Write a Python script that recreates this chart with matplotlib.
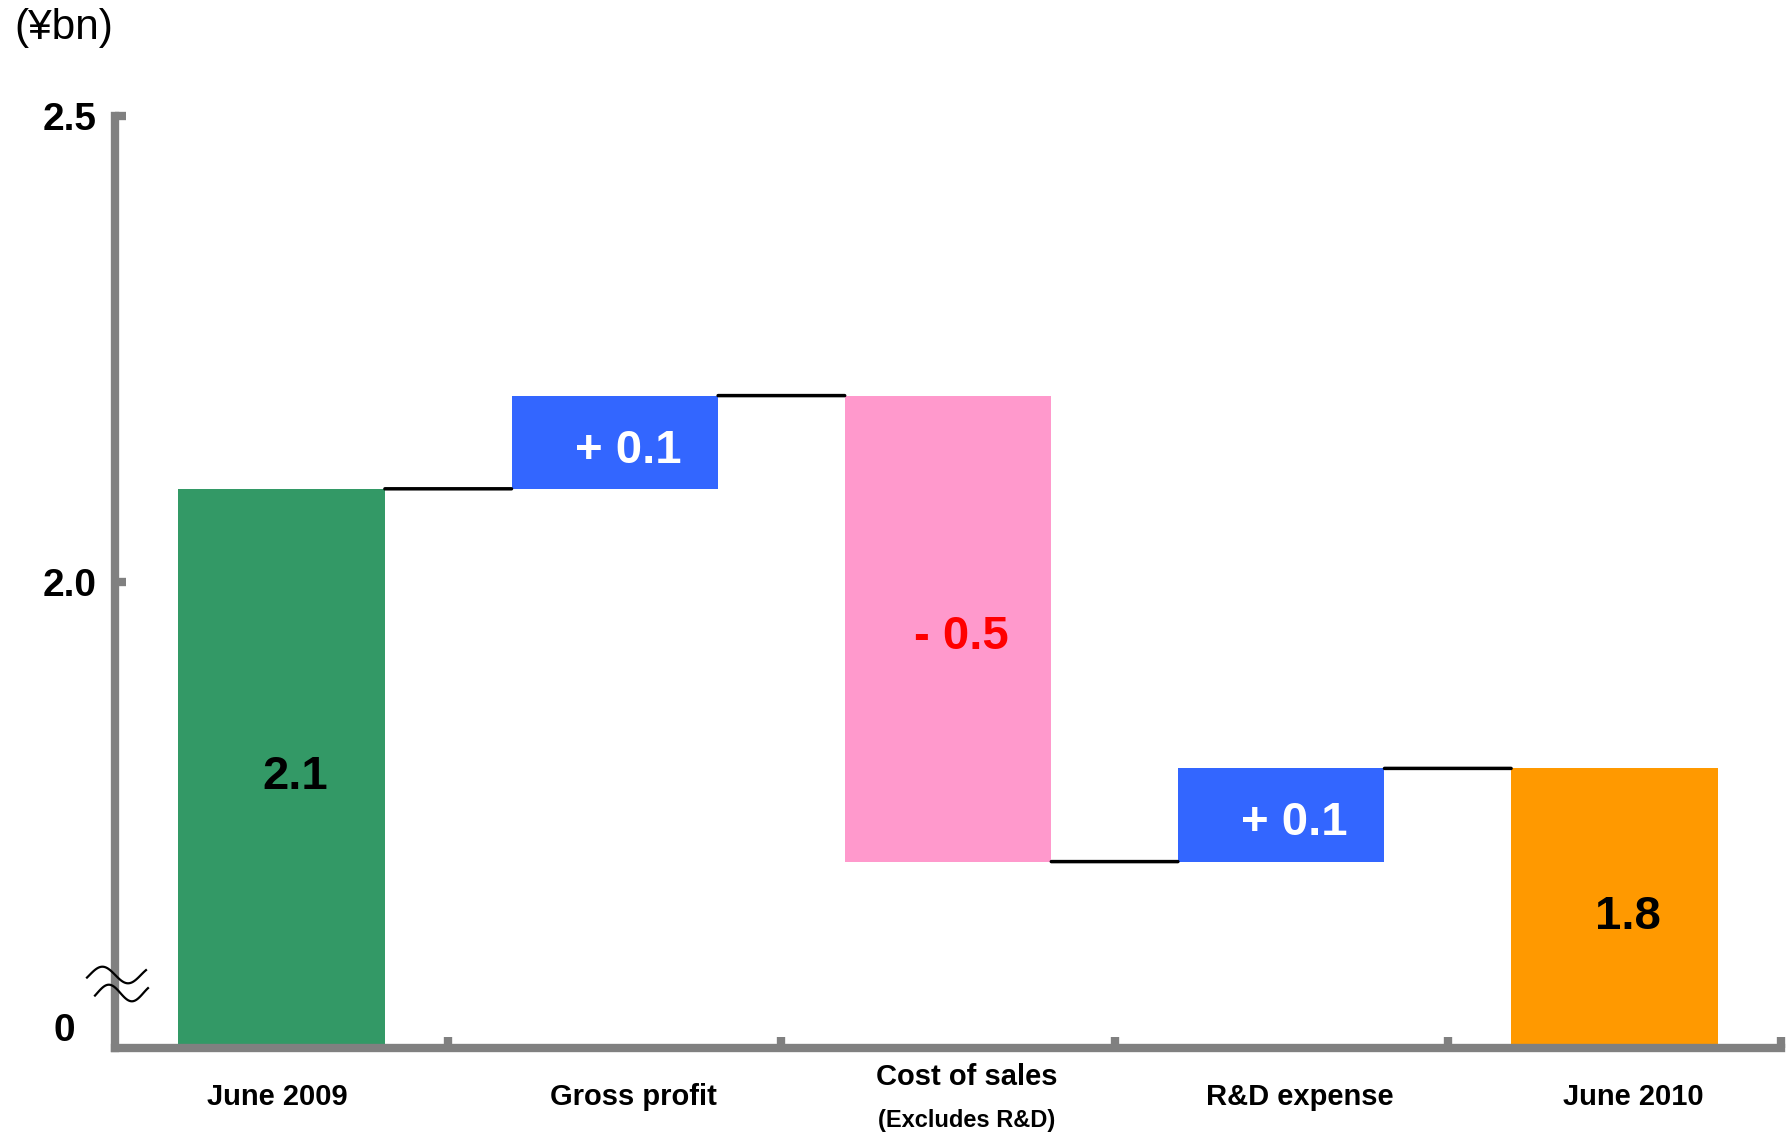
import numpy as np
import matplotlib
matplotlib.use("Agg")
import matplotlib.pyplot as plt
from matplotlib.lines import Line2D

plt.rcParams['font.family'] = ['Liberation Sans', 'DejaVu Sans']

# ---- data ----
categories = ["June 2009", "Gross profit", "Cost of sales", "R&D expense", "June 2010"]
sub_labels = ["", "", "(Excludes R&D)", "", ""]
start_value = 2.1
changes = [0.1, -0.5, 0.1]
end_value = 1.8
value_labels = ["2.1", "+ 0.1", "- 0.5", "+ 0.1", "1.8"]
bar_colors = ["#339966", "#3366FF", "#FF99CC", "#3366FF", "#FF9900"]
label_colors = ["black", "white", "#FF0000", "white", "black"]
ytick_vals = [2.0, 2.5]
ytick_labels = ["2.0", "2.5"]
y_break = 1.5   # axis is broken: bottom of axis shown as "0"

W, H = 1791, 1133
fig = plt.figure(figsize=(W / 100, H / 100), dpi=100)
ax = fig.add_axes([115 / W, 1 - 1048 / H, (1781 - 115) / W, (1048 - 116) / H])

# compute waterfall
levels = [start_value]
for c in changes:
    levels.append(levels[-1] + c)
bottoms, tops = [y_break], [start_value]
for i, c in enumerate(changes):
    lo, hi = sorted([levels[i], levels[i + 1]])
    bottoms.append(lo)
    tops.append(hi)
bottoms.append(y_break)
tops.append(end_value)
ends = levels + [end_value]

x = np.arange(len(categories)) + 0.5
bw = 0.62
for i in range(len(categories)):
    ax.bar(x[i], tops[i] - bottoms[i], bottom=bottoms[i], width=bw,
           color=bar_colors[i], zorder=2)
    ax.annotate(value_labels[i], xy=(x[i] + 0.04, (tops[i] + bottoms[i]) / 2),
                xytext=(0, -6), textcoords="offset points",
                ha="center", va="center", fontsize=34, fontweight="bold",
                color=label_colors[i], zorder=3)

# connectors
for i in range(len(categories) - 1):
    ax.annotate("", xy=(x[i] + bw / 2, ends[i]), xytext=(x[i + 1] - bw / 2, ends[i]),
                arrowprops=dict(arrowstyle="-", color="black", lw=2.5,
                                shrinkA=0, shrinkB=0))

ax.set_xlim(0, len(categories))
ax.set_ylim(y_break, 2.5)

for s in ["top", "right"]:
    ax.spines[s].set_visible(False)
for s in ["left", "bottom"]:
    ax.spines[s].set_color("#808080")
    ax.spines[s].set_linewidth(6)
    ax.spines[s].set_capstyle("projecting")

ax.set_yticks(ytick_vals)
ax.set_yticklabels(ytick_labels, fontsize=28, fontweight="bold")
ax.tick_params(axis="y", direction="in", length=8, width=6, color="#808080", pad=13)
ax.set_xticks(np.arange(1, len(categories) + 1))
ax.set_xticklabels([])
ax.tick_params(axis="x", direction="in", length=8, width=6, color="#808080")

# "0" label at the broken bottom
ax.annotate("0", xy=(0, 1.518), xycoords=("axes fraction", "data"),
            xytext=(-29, 0), textcoords="offset points",
            ha="right", va="center", fontsize=28, fontweight="bold")

# category labels
xoff = [-0.012, 0.057, 0.057, 0.057, 0.057]
trans = ax.get_xaxis_transform()
for i, cat in enumerate(categories):
    if sub_labels[i]:
        ax.text(x[i] + xoff[i], -0.031, cat, transform=trans, ha="center",
                va="center", fontsize=21, fontweight="bold")
        ax.text(x[i] + xoff[i], -0.078, sub_labels[i], transform=trans,
                ha="center", va="center", fontsize=17, fontweight="bold")
    else:
        ax.text(x[i] + xoff[i], -0.0524, cat, transform=trans, ha="center",
                va="center", fontsize=21, fontweight="bold")

# unit label
fig.text(14 / W, 1 - 28 / H, "(¥bn)", ha="left", va="center", fontsize=30.5)

# axis-break wavy marks
t = np.linspace(0, 1, 60)
wave = np.sin(2 * np.pi * (t * 1.15 - 0.05))
for x0, x1, yc in [(87, 146, 975), (95, 148, 993)]:
    xs = x0 + (x1 - x0) * t
    ys = yc - 8.3 * wave
    fig.add_artist(Line2D(xs / W, 1 - ys / H, transform=fig.transFigure,
                          color="black", lw=1.6))

fig.savefig("out.png", dpi=100)
